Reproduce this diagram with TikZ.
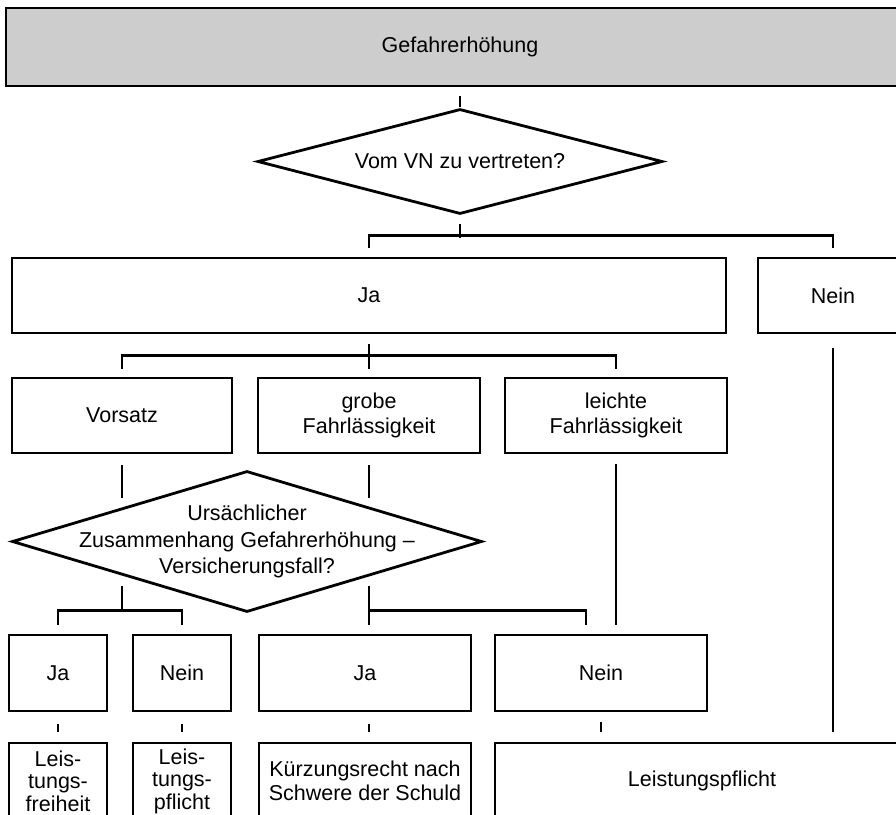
\documentclass[tikz,border=0pt]{standalone}
\usepackage{fontspec}
\setmainfont{Liberation Sans}
\usetikzlibrary{shapes.geometric,calc}
\definecolor{topgrey}{RGB}{205,205,205}
\begin{document}
\begin{tikzpicture}[x=1pt,y=-1pt,line width=2.8pt,
  box/.style={draw,rectangle,inner sep=0pt,align=center,font=\fontsize{21.5}{25}\selectfont},
  dia/.style={draw,diamond,inner sep=0pt,align=center,font=\fontsize{21.5}{25}\selectfont},
  txt/.style={inner sep=0pt,align=center,font=\fontsize{21.5}{26.5}\selectfont}]
\clip (0,0) rectangle (896,814);
% nodes
\node[box,fill=topgrey,minimum width=908,minimum height=78] (top) at (460,47) {Gefahrerhöhung};
\node[dia,minimum width=405,minimum height=105,aspect=3.86] (d1) at (460,161.5) {Vom VN zu vertreten?};
\node[box,minimum width=714,minimum height=75] (ja1) at (369,295.5) {Ja};
\node[box,minimum width=150,minimum height=75] (nein1) at (833,295.5) {Nein};
\node[box,minimum width=220,minimum height=75] (vors) at (122,415.5) {Vorsatz};
\node[box,minimum width=222,minimum height=75] (grob) at (369,415.5) {grobe\\Fahrlässigkeit};
\node[box,minimum width=222,minimum height=75] (leicht) at (616,415.5) {leichte\\Fahrlässigkeit};
\node[dia,minimum width=470,minimum height=141,aspect=3.33] (d2) at (247,541.5) {};
\node[txt] (d2t) at (d2) {Ursächlicher\\Zusammenhang Gefahrerhöhung –\\Versicherungsfall?};
\node[box,minimum width=98,minimum height=76] (ja2) at (58,673) {Ja};
\node[box,minimum width=98,minimum height=76] (nein2) at (182,673) {Nein};
\node[box,minimum width=212,minimum height=76] (ja3) at (365,673) {Ja};
\node[box,minimum width=212,minimum height=76] (nein3) at (601,673) {Nein};
\node[box,minimum width=98,minimum height=76,font=\fontsize{21.5}{22.5}\selectfont] (lf) at (58,781) {Leis-\\tungs-\\freiheit};
\node[box,minimum width=98,minimum height=76,font=\fontsize{21.5}{22.5}\selectfont] (lp1) at (182,781) {Leis-\\tungs-\\pflicht};
\node[box,minimum width=212,minimum height=76,font=\fontsize{21.5}{24}\selectfont] (kr) at (365,781) {Kürzungsrecht nach\\Schwere der Schuld};
\node[box,minimum width=414,minimum height=76] (lp) at (702,781) {Leistungspflicht};
% connectors
\draw ([yshift=-9pt]top.south) -- ([yshift=1pt]d1.north);
\draw ([yshift=-9pt]d1.south) -- ++(0pt,-14pt);
\draw ([yshift=9pt]ja1.north) -- ++(0pt,12pt) -| ([yshift=9pt]nein1.north);
\draw ([yshift=-10pt]ja1.south) -- ([yshift=8pt]grob.north);
\draw ([yshift=8pt]vors.north) -- ++(0pt,13pt) -| ([yshift=8pt]leicht.north);
\draw ([yshift=-14pt]nein1.south) -- ($(nein1.south |- lp.north)+(0pt,10pt)$);
\draw ([yshift=-11pt]vors.south) -- ++(0pt,-33pt);
\draw ([yshift=-11pt]grob.south) -- ++(0pt,-33pt);
\draw ($(vors.south |- ja2.north)+(0pt,48pt)$) -- ($(vors.south |- ja2.north)+(0pt,23pt)$);
\draw ([yshift=9pt]ja2.north) -- ++(0pt,14pt) -| ([yshift=9pt]nein2.north);
\draw ($(grob.south |- ja3.north)+(0pt,48pt)$) -- ($(grob.south |- ja3.north)+(0pt,9pt)$);
\draw ($(grob.south |- ja3.north)+(0pt,23pt)$) -| ($(nein3.north)+(-15pt,9pt)$);
\draw ([yshift=-10pt]leicht.south) -- ($(leicht.south |- nein3.north)+(0pt,9pt)$);
\draw ([yshift=-12pt]ja2.south) -- ([yshift=10pt]lf.north);
\draw ([yshift=-12pt]nein2.south) -- ([yshift=10pt]lp1.north);
\draw ($(ja3.south -| grob.south)+(0pt,-12pt)$) -- ($(kr.north -| grob.south)+(0pt,10pt)$);
\draw ([yshift=-10pt]nein3.south) -- ($(nein3.south |- lp.north)+(0pt,10pt)$);
\end{tikzpicture}
\end{document}
